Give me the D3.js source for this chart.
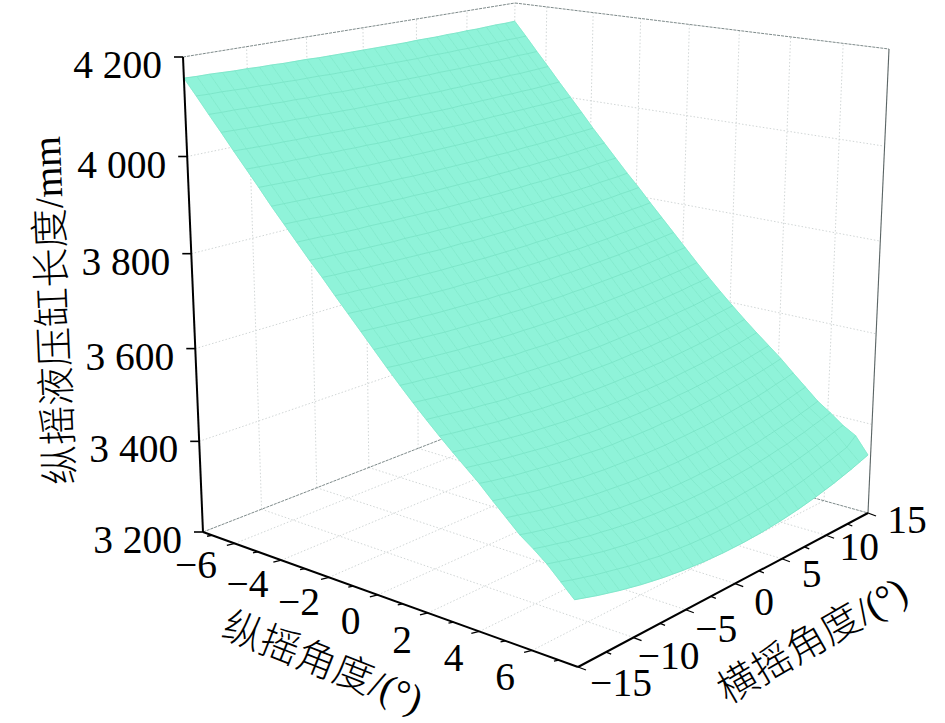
<!DOCTYPE html>
<html><head><meta charset="utf-8">
<script src="https://cdnjs.cloudflare.com/ajax/libs/d3/7.8.5/d3.min.js"></script>
<style>html,body{margin:0;padding:0;background:#fff}svg{display:block}</style></head>
<body><svg id="c" width="945" height="723"></svg>
<script>
const pitchTickLabels=[-6,-4,-2,0,2,4,6];
const pitchTicks=[-7,-6,-5,-4,-3,-2,-1,0,1,2,3,4,5,6,7];
const rollTickLabels=[-15,-10,-5,0,5,10,15];
const rollTicks=[-15,-12.5,-10,-7.5,-5,-2.5,0,2.5,5,7.5,10,12.5,15];
const lengthTicks=[3200,3400,3600,3800,4000,4200];
const pitchRows=[-7.4,-6.9,-6.4,-5.9,-5.4,-4.9,-4.4,-3.9,-3.4,-2.9,-2.4,-1.9,-1.4,-0.9,-0.4,0.1,0.6,1.1,1.6,2.1,2.6,3.1,3.6,4.1,4.6,5.1,5.6,6.1,6.6,7.1,7.6];
const rollCols=[-15,-14,-13,-12,-11,-10,-9,-8,-7,-6,-5,-4,-3,-2,-1,0,1,2,3,4,5,6,7,8,9,10,11,12,13,14,15];
const cylinderLength=[
[4158,4157,4157,4156,4155,4155,4154,4154,4153,4153,4153,4152,4152,4152,4152,4152,4152,4152,4152,4152,4153,4153,4153,4154,4154,4155,4155,4156,4157,4157,4158],
[4127,4126,4126,4125,4124,4124,4123,4123,4122,4122,4122,4121,4121,4121,4121,4121,4121,4121,4121,4121,4122,4122,4122,4123,4123,4124,4124,4125,4126,4126,4127],
[4095,4094,4094,4093,4092,4092,4091,4091,4090,4090,4090,4089,4089,4089,4089,4089,4089,4089,4089,4089,4090,4090,4090,4091,4091,4092,4092,4093,4094,4094,4095],
[4064,4063,4062,4061,4061,4060,4060,4059,4059,4058,4058,4057,4057,4057,4057,4057,4057,4057,4057,4057,4058,4058,4059,4059,4060,4060,4061,4061,4062,4063,4064],
[4032,4031,4030,4029,4029,4028,4028,4027,4027,4026,4026,4025,4025,4025,4025,4025,4025,4025,4025,4025,4026,4026,4027,4027,4028,4028,4029,4029,4030,4031,4032],
[4001,4000,3999,3998,3998,3997,3997,3996,3996,3995,3995,3994,3994,3994,3994,3994,3994,3994,3994,3994,3995,3995,3996,3996,3997,3997,3998,3998,3999,4000,4001],
[3970,3969,3968,3967,3966,3966,3965,3964,3964,3963,3963,3963,3962,3962,3962,3962,3962,3962,3962,3963,3963,3963,3964,3964,3965,3966,3966,3967,3968,3969,3970],
[3938,3937,3936,3935,3934,3933,3932,3932,3931,3930,3930,3930,3929,3929,3929,3929,3929,3929,3929,3930,3930,3930,3931,3932,3932,3933,3934,3935,3936,3937,3938],
[3908,3907,3906,3904,3903,3902,3902,3901,3900,3900,3899,3899,3898,3898,3898,3898,3898,3898,3898,3899,3899,3900,3900,3901,3902,3902,3903,3904,3906,3907,3908],
[3878,3877,3876,3874,3873,3872,3872,3871,3870,3870,3869,3869,3868,3868,3868,3868,3868,3868,3868,3869,3869,3870,3870,3871,3872,3872,3873,3874,3876,3877,3878],
[3848,3846,3845,3844,3842,3841,3840,3839,3839,3838,3837,3837,3836,3836,3836,3836,3836,3836,3836,3837,3837,3838,3839,3839,3840,3841,3842,3844,3845,3846,3848],
[3820,3818,3817,3815,3814,3813,3812,3811,3810,3809,3808,3808,3808,3807,3807,3807,3807,3807,3808,3808,3808,3809,3810,3811,3812,3813,3814,3815,3817,3818,3820],
[3790,3788,3787,3785,3784,3782,3781,3780,3779,3778,3778,3777,3777,3776,3776,3776,3776,3776,3777,3777,3778,3778,3779,3780,3781,3782,3784,3785,3787,3788,3790],
[3761,3759,3757,3756,3754,3753,3751,3750,3749,3748,3748,3747,3747,3746,3746,3746,3746,3746,3747,3747,3748,3748,3749,3750,3751,3753,3754,3756,3757,3759,3761],
[3732,3730,3728,3726,3724,3723,3721,3720,3719,3718,3717,3716,3716,3715,3715,3715,3715,3715,3716,3716,3717,3718,3719,3720,3721,3723,3724,3726,3728,3730,3732],
[3703,3701,3699,3697,3695,3693,3691,3690,3689,3688,3687,3686,3686,3685,3685,3685,3685,3685,3686,3686,3687,3688,3689,3690,3691,3693,3695,3697,3699,3701,3703],
[3674,3671,3669,3667,3665,3663,3661,3660,3658,3657,3656,3655,3655,3654,3654,3654,3654,3654,3655,3655,3656,3657,3658,3660,3661,3663,3665,3667,3669,3671,3674],
[3646,3643,3641,3638,3636,3634,3632,3630,3629,3628,3626,3626,3625,3624,3624,3624,3624,3624,3625,3626,3626,3628,3629,3630,3632,3634,3636,3638,3641,3643,3646],
[3619,3616,3613,3610,3608,3606,3604,3602,3600,3599,3598,3597,3596,3595,3595,3595,3595,3595,3596,3597,3598,3599,3600,3602,3604,3606,3608,3610,3613,3616,3619],
[3593,3590,3587,3584,3581,3579,3576,3574,3573,3571,3570,3569,3568,3567,3567,3567,3567,3567,3568,3569,3570,3571,3573,3574,3576,3579,3581,3584,3587,3590,3593],
[3568,3564,3561,3558,3555,3552,3550,3548,3546,3544,3543,3542,3541,3541,3540,3540,3540,3541,3541,3542,3543,3544,3546,3548,3550,3552,3555,3558,3561,3564,3568],
[3544,3540,3536,3533,3530,3527,3524,3522,3520,3518,3516,3515,3514,3514,3513,3513,3513,3514,3514,3515,3516,3518,3520,3522,3524,3527,3530,3533,3536,3540,3544],
[3521,3517,3513,3509,3506,3503,3500,3497,3495,3493,3492,3490,3489,3489,3488,3488,3488,3489,3489,3490,3492,3493,3495,3497,3500,3503,3506,3509,3513,3517,3521],
[3498,3493,3489,3485,3482,3479,3476,3473,3471,3469,3467,3465,3464,3464,3463,3463,3463,3464,3464,3465,3467,3469,3471,3473,3476,3479,3482,3485,3489,3493,3498],
[3472,3467,3463,3458,3454,3451,3448,3445,3442,3440,3438,3437,3436,3435,3434,3434,3434,3435,3436,3437,3438,3440,3442,3445,3448,3451,3454,3458,3463,3467,3472],
[3447,3442,3437,3432,3428,3424,3421,3418,3415,3413,3411,3409,3408,3407,3406,3406,3406,3407,3408,3409,3411,3413,3415,3418,3421,3424,3428,3432,3437,3442,3447],
[3422,3416,3411,3406,3402,3398,3394,3390,3388,3385,3383,3381,3380,3379,3378,3378,3378,3379,3380,3381,3383,3385,3388,3390,3394,3398,3402,3406,3411,3416,3422],
[3403,3397,3392,3386,3382,3377,3374,3370,3367,3364,3362,3360,3359,3358,3357,3357,3357,3358,3359,3360,3362,3364,3367,3370,3374,3377,3382,3386,3392,3397,3403],
[3382,3376,3370,3364,3359,3354,3350,3346,3343,3340,3338,3336,3334,3333,3332,3332,3332,3333,3334,3336,3338,3340,3343,3346,3350,3354,3359,3364,3370,3376,3382],
[3356,3349,3343,3337,3332,3327,3322,3318,3315,3311,3309,3307,3305,3304,3303,3303,3303,3304,3305,3307,3309,3311,3315,3318,3322,3327,3332,3337,3343,3349,3366],
[3330,3323,3316,3310,3304,3299,3294,3290,3286,3283,3280,3278,3276,3275,3274,3274,3274,3275,3276,3278,3280,3283,3286,3290,3294,3299,3304,3310,3316,3323,3330]
];

// Camera calibration: where the eight corners of the plot box sit on the page.
const cornerPixels={
 '000':[203,532],'100':[578,667],'010':[509,413],'110':[868,513],
 '001':[183,57], '101':[572,130],'011':[515,3],  '111':[889,49]
};
const svg=d3.select('#c');
const serif='"Liberation Serif","Times New Roman","Noto Sans CJK SC",serif';
const pitchScale=d3.scaleLinear().domain([-7.4,7.7]).range([0,1]);
const rollScale=d3.scaleLinear().domain([-15,15]).range([0,1]);
const lengthScale=d3.scaleLinear().domain([3200,4200]).range([0,1]);
const pitchLabelX=d3.scaleLinear().domain([-6,6]).range([196,505]);
const pitchLabelY=d3.scaleLinear().domain([-6,6]).range([565,677]);
const rollLabelX=d3.scaleLinear().domain([-15,15]).range([621,907]);
const rollLabelY=d3.scaleLinear().domain([-15,15]).range([683,520]);
const warp=(t,r)=>t/(t+r*(1-t));
function project(p,r,z){
  const u=warp(pitchScale(p),1.1),v=warp(rollScale(r),0.845),w=warp(lengthScale(z),1.06);
  let x=0,y=0;
  for(const a of [0,1])for(const b of [0,1])for(const c of [0,1]){
    const k=(a?u:1-u)*(b?v:1-v)*(c?w:1-w),q=cornerPixels[''+a+b+c];
    x+=k*q[0];y+=k*q[1];
  }
  return [x,y];
}
const [pMin,pMax]=pitchScale.domain(),[rMin,rMax]=rollScale.domain(),[zMin,zMax]=lengthScale.domain();
const gridLine=d3.line();
function seg(g,a,b,st){
  const el=g.append('path').attr('d',gridLine([a,b])).attr('fill','none');
  Object.entries(st).forEach(([k,v])=>el.attr(k,v));
  return el;
}
const dotted={stroke:'#ccd1d1','stroke-width':0.9,'stroke-dasharray':'1.5 2'};
const edge={stroke:'#6f7d7d','stroke-width':0.9,'stroke-dasharray':'3 1'};

// walls and floor
const back=svg.append('g');
const zInner=lengthTicks.slice(1,-1);
const rollMajor=rollTickLabels.slice(1,-1);
zInner.forEach(z=>{
  seg(back,project(pMin,rMin,z),project(pMin,rMax,z),dotted);
  seg(back,project(pMin,rMax,z),project(pMax,rMax,z),dotted);
});
rollMajor.forEach(r=>{
  seg(back,project(pMin,r,zMin),project(pMin,r,zMax),dotted);
  seg(back,project(pMin,r,zMin),project(pMax,r,zMin),dotted);
});
pitchTickLabels.forEach(p=>{
  seg(back,project(p,rMax,zMin),project(p,rMax,zMax),dotted);
  seg(back,project(p,rMin,zMin),project(p,rMax,zMin),dotted);
});
seg(back,project(pMin,rMax,zMin),project(pMin,rMax,zMax),dotted);
seg(back,project(pMin,rMin,zMax),project(pMin,rMax,zMax),edge);
seg(back,project(pMin,rMax,zMax),project(pMax,rMax,zMax),edge);
seg(back,project(pMin,rMin,zMin),project(pMin,rMax,zMin),edge);
seg(back,project(pMin,rMax,zMin),project(pMax,rMax,zMin),edge);
seg(back,project(pMax,rMax,zMin),project(pMax,rMax,zMax),{stroke:'#5a6464','stroke-width':1.1});

// surface
const surf=svg.append('g');
const fillCol='#8ff3d9';
for(let i=0;i<pitchRows.length-1;i++)for(let j=0;j<rollCols.length-1;j++){
  const q=[[i,j],[i+1,j],[i+1,j+1],[i,j+1]].map(([a,b])=>project(pitchRows[a],rollCols[b],cylinderLength[a][b]));
  surf.append('path').attr('d',gridLine(q)+'Z').attr('fill',fillCol).attr('stroke',fillCol).attr('stroke-width',0.6);
}
const rowLines=svg.append('g').attr('fill','none').attr('stroke','#72dfc2').attr('stroke-width',0.7);
pitchRows.forEach((p,i)=>{
  rowLines.append('path').attr('d',gridLine(rollCols.map((r,j)=>project(p,r,cylinderLength[i][j]))));
});
const colLines=svg.append('g').attr('fill','none').attr('stroke','#7ce6c9').attr('stroke-width',0.7);
rollCols.forEach((r,j)=>{
  colLines.append('path').attr('d',gridLine(pitchRows.map((p,i)=>project(p,r,cylinderLength[i][j]))));
});

// axes
const ax=svg.append('g');
const solid=w=>({stroke:'#000','stroke-width':w});
seg(ax,project(pMin,rMin,zMin),project(pMin,rMin,zMax),solid(2));
seg(ax,project(pMin,rMin,zMin),project(pMax,rMin,zMin),solid(2));
seg(ax,project(pMax,rMin,zMin),project(pMax,rMax,zMin),solid(2));
const off=([x,y],dx,dy)=>[x+dx,y+dy];
lengthTicks.forEach(z=>{const a=project(pMin,rMin,z);seg(ax,a,off(a,-9,0),solid(1.6));});
pitchTicks.forEach(p=>{const a=project(p,rMin,zMin),big=pitchTickLabels.includes(p);seg(ax,a,off(a,big?-8:-5,big?2:1),solid(1.3));});
rollTicks.forEach(r=>{const a=project(pMax,r,zMin),big=rollTickLabels.includes(r);seg(ax,a,off(a,big?8:5,big?3:2),solid(1.3));});

// labels
const fs=39.5;
const fmt=v=>(v<0?'\u2212':'')+Math.abs(v);
const fmtLen=v=>String(v).replace(/(\d)(\d{3})$/,'$1 $2');
const label=(x,y,t,a)=>svg.append('text').attr('x',x).attr('y',y).attr('text-anchor',a||'middle')
  .attr('font-family',serif).attr('font-size',fs).attr('fill','#000').text(t);
lengthTicks.forEach(z=>{
  const a=project(pMin,rMin,z);
  label(a[0]-21,a[1]+21,fmtLen(z),'end');
});
pitchTickLabels.forEach(p=>label(pitchLabelX(p),pitchLabelY(p)+13,fmt(p)));
rollTickLabels.forEach(r=>label(rollLabelX(r),rollLabelY(r)+13,fmt(r)));

const title=(x,y,rot,t)=>svg.append('text').attr('transform',`translate(${x},${y}) rotate(${rot})`)
  .attr('text-anchor','middle').attr('font-family',serif).attr('font-size',fs).attr('font-weight',300).attr('fill','#000').text(t);
title(67,310,-92.4,'纵摇液压缸长度/mm');
title(318,675,21.5,'纵摇角度/(°)');
title(819,652,-30,'横摇角度/(°)');
</script></body></html>
